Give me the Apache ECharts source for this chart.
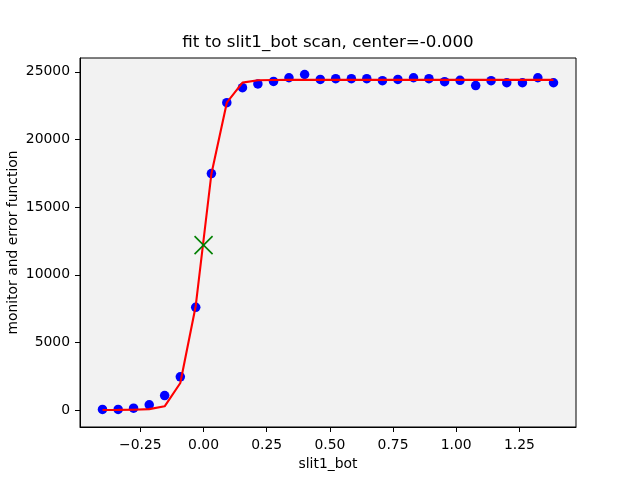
<!DOCTYPE html>
<html>
<head>
<meta charset="utf-8">
<script src="https://cdn.jsdelivr.net/npm/echarts@6/dist/echarts.min.js"></script>
<style>html,body{margin:0;padding:0;background:#fff;}#c{width:640px;height:480px;}</style>
</head>
<body>
<div id="c"></div>
<script>
const titleText = 'fit to slit1_bot scan, center=-0.000';
const xName = 'slit1_bot';
const yName = 'monitor and error function';

const xPos = [-0.400, -0.338, -0.277, -0.215, -0.154, -0.092, -0.031, 0.031, 0.092, 0.154,
              0.215, 0.277, 0.338, 0.400, 0.462, 0.523, 0.585, 0.646, 0.708, 0.769,
              0.831, 0.892, 0.954, 1.015, 1.077, 1.138, 1.200, 1.262, 1.323, 1.385];
const monitor = [60, 60, 150, 400, 1080, 2470, 7600, 17480, 22720, 23830,
                 24100, 24290, 24560, 24800, 24440, 24490, 24490, 24490, 24340, 24440,
                 24560, 24490, 24270, 24370, 23980, 24340, 24190, 24190, 24560, 24190];
const fitValues = [20, 25, 40, 80, 290, 2010, 7700, 17450, 22720, 24200,
                   24370, 24390, 24400, 24400, 24400, 24400, 24400, 24400, 24400, 24400,
                   24400, 24400, 24400, 24400, 24400, 24400, 24400, 24400, 24400, 24400];
const centerPoint = [0.0, 12200];
const xTicks = [-0.25, 0, 0.25, 0.5, 0.75, 1.0, 1.25];
const yTicks = [0, 5000, 10000, 15000, 20000, 25000];

const font = 'DejaVu Sans';
const chart = echarts.init(document.getElementById('c'), null, {renderer: 'canvas'});
const zip = (a, b) => a.map((v, i) => [v, b[i]]);

chart.setOption({
  animation: false,
  backgroundColor: '#ffffff',
  textStyle: {fontFamily: font},
  graphic: [{
    type: 'text', x: 328, y: 43, z: 100,
    style: {text: titleText, fill: '#000', fontSize: 16.7, fontFamily: font, align: 'center', verticalAlign: 'middle'}
  }],
  grid: {left: 80, right: 64, top: 58, bottom: 53, containLabel: false, outerBoundsMode: 'none',
    show: true, borderColor: '#000', borderWidth: 1, backgroundColor: '#f2f2f2'},
  xAxis: {
    type: 'value', min: -0.489, max: 1.474,
    name: xName, nameLocation: 'middle', nameGap: 30, nameMoveOverlap: false,
    nameTextStyle: {color: '#000', fontSize: 13.9, fontFamily: font},
    axisLine: {show: true, onZero: false, lineStyle: {color: '#000', width: 1}},
    axisTick: {show: true, length: 5, customValues: xTicks, lineStyle: {color: '#000', width: 1}},
    axisLabel: {customValues: xTicks, margin: 11, color: '#000', fontSize: 13.9, fontFamily: font,
      formatter: v => (v < 0 ? '\u2212' : '') + Math.abs(v).toFixed(2)},
    splitLine: {show: false}
  },
  yAxis: {
    type: 'value', min: -1239, max: 26019,
    name: yName, nameLocation: 'middle', nameGap: 60, nameRotate: 90, nameMoveOverlap: false,
    nameTextStyle: {color: '#000', fontSize: 13.9, fontFamily: font},
    axisLine: {show: true, onZero: false, lineStyle: {color: '#000', width: 1}},
    axisTick: {show: true, length: 5, customValues: yTicks, lineStyle: {color: '#000', width: 1}},
    axisLabel: {customValues: yTicks, margin: 10, color: '#000', fontSize: 13.9, fontFamily: font,
      formatter: v => String(Math.round(v))},
    splitLine: {show: false}
  },
  series: [
    {
      type: 'scatter', data: zip(xPos, monitor), symbol: 'circle', symbolSize: 9.5,
      itemStyle: {color: '#0000ff', opacity: 1}, z: 2
    },
    {
      type: 'line', data: zip(xPos, fitValues), showSymbol: false, symbol: 'none',
      lineStyle: {color: '#ff0000', width: 2.1}, z: 3
    },
    {
      type: 'custom', data: [centerPoint], z: 4,
      renderItem: function (params, api) {
        const p = api.coord([api.value(0), api.value(1)]);
        const s = 9;
        const st = {stroke: '#008000', lineWidth: 1.6};
        return {type: 'group', children: [
          {type: 'line', shape: {x1: p[0] - s, y1: p[1] - s, x2: p[0] + s, y2: p[1] + s}, style: st},
          {type: 'line', shape: {x1: p[0] - s, y1: p[1] + s, x2: p[0] + s, y2: p[1] - s}, style: st}
        ]};
      }
    }
  ]
});
</script>
</body>
</html>
